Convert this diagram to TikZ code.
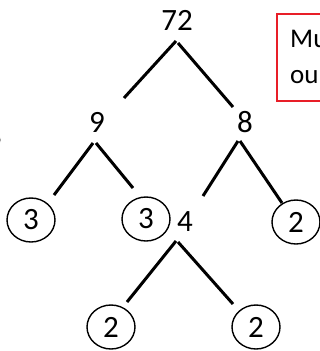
\documentclass[tikz,border=0pt]{standalone}
\usepackage{fontspec}
\setmainfont{Carlito}
\usetikzlibrary{shapes.geometric,calc}
\definecolor{boxred}{RGB}{232,30,40}
\begin{document}
\begin{tikzpicture}[x=1pt,y=-1pt,
  num/.style={inner sep=0pt,font=\fontsize{31}{33}\selectfont},
  leaf/.style={num,draw,ellipse,line width=1.4pt,minimum width=48pt,minimum height=44pt},
  branch/.style={line width=3pt},
  note/.style={font=\fontsize{27}{30}\selectfont,anchor=base west,inner sep=0pt}]
\useasboundingbox (0,0) rectangle (320,351);
\clip (0,0) rectangle (320,351);

% factor tree nodes
\node[num]  (n72) at (177,20)  {72};
\node[num]  (n9)  at (97,122)  {9};
\node[num]  (n8)  at (245,122) {8};
\node[leaf] (c3a) at (31,220)  {3};
\node[leaf] (c3b) at (146,219) {3};
\node[num]  (n4)  at (185,222) {4};
\node[leaf] (c2a) at (296,222) {2};
\node[leaf] (c2b) at (111,327) {2};
\node[leaf] (c2c) at (256,327) {2};

% branches
\draw[branch] ($(n72)+(-1,21)$) -- ($(n9)+(27,-24)$);
\draw[branch] ($(n72)+(1,23)$)  -- ($(n8)+(-12,-15)$);
\draw[branch] ($(n9)+(-4,21)$)  -- ($(c3a)+(23,-25)$);
\draw[branch] ($(n9)+(-1,21)$)  -- ($(c3b)+(-13,-31)$);
\draw[branch] ($(n8)+(-7,19)$)  -- ($(n4)+(18,-26)$);
\draw[branch] ($(n8)+(-5,19)$)  -- ($(c2a)+(-14,-19)$);
\draw[branch] ($(n4)+(-9,19)$)  -- ($(c2b)+(16,-25)$);
\draw[branch] ($(n4)+(-7,20)$)  -- ($(c2c)+(-23,-23)$);

% stray mark at the left edge
\draw[line width=1.5pt] (-3,133) to[bend left=40] (-3,147);

% note box running off the right edge
\draw[boxred,line width=2.5pt] (277,14) rectangle (345,101);
\node[note] (t1) at (290,47) {Mu};
\node[note] (t2) at (290,83) {ou};
\end{tikzpicture}
\end{document}
